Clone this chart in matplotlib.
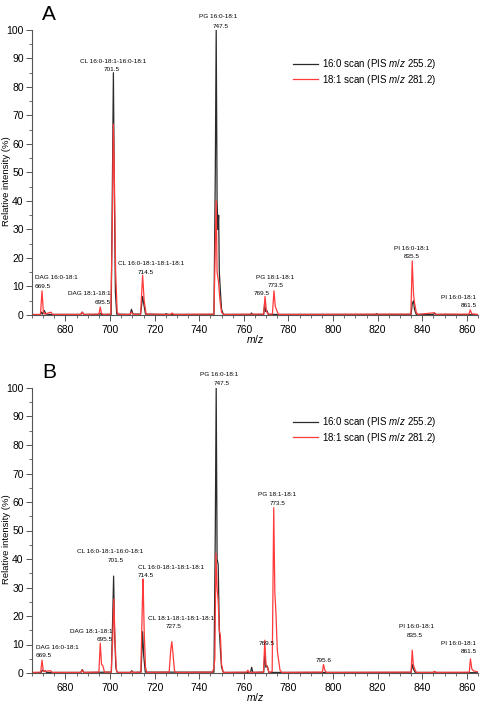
import numpy as np
import matplotlib.pyplot as plt
from matplotlib.ticker import MultipleLocator

plt.rcParams["font.family"] = ["Liberation Sans", "DejaVu Sans"]
plt.rcParams["mathtext.fontset"] = "custom"
plt.rcParams["mathtext.it"] = "Liberation Sans:italic"
plt.rcParams["mathtext.rm"] = "Liberation Sans"

# -----------------------------
# Data
# -----------------------------

# Panel A, 16:0 scan (PIS m/z 255.2)
a16_mz = [665, 668.8, 669.3, 669.8, 670.5, 671.2, 672.5, 686.8, 687.5, 688.2,
          695.0, 695.5, 696.0, 700.5, 701.1, 701.5, 701.9, 702.4, 703.0, 709.0,
          709.6, 710.3, 713.7, 714.6, 715.2, 715.9, 724.6, 725.2, 725.8, 746.6,
          747.2, 747.6, 748.0, 748.4, 748.7, 749.0, 749.5, 750.0, 750.8, 763.0,
          763.4, 763.9, 768.9, 769.3, 769.8, 770.3, 771.0, 819.1, 819.5, 819.9,
          835.0, 835.5, 836.1, 836.5, 837.3, 845.0, 845.5, 846.0, 865]
a16_int = [0.1, 0.1, 1.0, 0.3, 1.6, 0.4, 0.2, 0.2, 1.0, 0.2,
           0.2, 0.6, 0.2, 0.2, 50, 85, 45, 8, 0.3, 0.2,
           2.0, 0.3, 0.3, 6.5, 3.5, 0.3, 0.2, 0.5, 0.2, 0.2,
           50, 100, 40, 30, 35, 15, 8, 2, 0.2, 0.2,
           0.7, 0.2, 0.2, 4, 1.2, 1.6, 0.2, 0.2, 0.5, 0.2,
           0.2, 4, 5, 2, 0.2, 0.2, 0.6, 0.2, 0.1]

# Panel A, 18:1 scan (PIS m/z 281.2)
a18_mz = [665, 668.8, 669.5, 670.1, 670.7, 673.5, 674.2, 686.9, 687.5, 688.3,
          695.0, 695.6, 696.2, 697.0, 700.3, 700.9, 701.5, 702.0, 702.5, 703.2,
          703.8, 709.0, 709.5, 710.5, 713.7, 714.6, 715.3, 716.2, 727.2, 727.8,
          728.6, 746.6, 747.2, 747.6, 748.0, 748.6, 749.3, 750.0, 750.8, 768.9,
          769.5, 770.1, 770.8, 772.8, 773.5, 774.1, 774.8, 775.5, 834.9, 835.5,
          836.1, 836.6, 837.3, 838.0, 845.5, 846.2, 850.0, 861.0, 861.5, 862.2,
          865]
a18_int = [0.2, 0.2, 8.5, 1.0, 0.3, 1.0, 0.2, 0.2, 1.0, 0.2,
           0.3, 2.8, 0.5, 0.2, 0.3, 25, 67, 45, 15, 1.0,
           0.2, 0.2, 1.0, 0.2, 0.3, 14, 5, 0.3, 0.2, 0.7,
           0.2, 0.3, 25, 40, 15, 12, 5, 1.0, 0.2, 0.3,
           6.5, 1.5, 0.3, 0.3, 8.5, 3, 1.5, 0.2, 0.3, 19,
           7, 4, 1.0, 0.2, 0.8, 0.2, 0.3, 0.3, 1.8, 0.4,
           0.2]

# Panel B, 16:0 scan
b16_mz = [665, 669.0, 669.6, 670.3, 671.0, 671.5, 686.9, 687.5, 688.3, 700.6,
          701.2, 701.6, 702.0, 702.6, 703.2, 709.2, 709.7, 710.5, 713.9, 714.6,
          715.1, 715.8, 746.6, 747.2, 747.6, 748.0, 748.5, 749.0, 749.5, 750.0,
          750.8, 763.0, 763.5, 764.0, 768.9, 769.4, 769.9, 770.5, 771.2, 835.0,
          835.5, 836.0, 836.8, 845.0, 845.5, 846.0, 865]
b16_int = [0.1, 0.1, 1.0, 0.5, 0.8, 0.2, 0.2, 1.2, 0.2, 0.3,
           20, 34, 15, 2, 0.2, 0.2, 0.8, 0.2, 0.3, 14.5,
           6, 0.3, 0.3, 50, 100, 40, 38, 15, 8, 2,
           0.2, 0.2, 2.0, 0.2, 0.3, 7, 2, 2.5, 0.2, 0.2,
           3, 1.5, 0.2, 0.2, 0.5, 0.2, 0.1]

# Panel B, 18:1 scan
b18_mz = [665, 668.9, 669.5, 670.1, 673.4, 674.0, 686.9, 687.5, 688.2, 695.0,
          695.6, 696.2, 696.8, 697.5, 700.5, 701.2, 701.7, 702.2, 702.8, 703.4,
          709.2, 709.7, 710.3, 713.8, 714.5, 714.8, 715.3, 715.9, 716.5, 726.5,
          727.2, 727.7, 728.2, 728.9, 729.5, 745.8, 746.5, 747.0, 747.5, 748.0,
          748.5, 749.0, 749.5, 750.0, 750.8, 761.3, 761.8, 762.3, 768.8, 769.4,
          769.9, 770.6, 771.3, 772.7, 773.4, 773.9, 774.4, 775.0, 775.5, 776.2,
          777.0, 795.2, 795.7, 796.3, 797.0, 835.0, 835.5, 836.0, 836.6, 837.3,
          845.0, 845.5, 846.2, 861.1, 861.6, 862.2, 863.0, 865]
b18_int = [0.2, 0.3, 4.5, 0.5, 0.8, 0.2, 0.2, 1.0, 0.2, 0.3,
           10.5, 3, 2.5, 0.3, 0.3, 12, 26, 12, 1.0, 0.2,
           0.2, 0.5, 0.2, 0.3, 25, 33, 15, 2, 0.2, 0.3,
           8, 11, 7, 0.8, 0.2, 0.3, 1.5, 5, 42, 30,
           25, 15, 13, 3, 0.2, 0.3, 1.0, 0.2, 0.3, 11.5,
           3, 2, 0.2, 0.5, 58, 28, 21, 8, 5, 1.0,
           0.2, 0.3, 3, 1.0, 0.2, 0.3, 8, 3, 1.5, 0.2,
           0.2, 0.6, 0.2, 0.3, 5, 1.5, 0.7, 0.4]

# peak labels: (text, x, y, ha)
a_labels = [
    ("PG 16:0-18:1", 748.4, 104.6, "center"), ("747.5", 749.5, 101.4, "center"),
    ("CL 16:0-18:1-16:0-18:1", 701.5, 89.1, "center"), ("701.5", 700.9, 86.1, "center"),
    ("CL 16:0-18:1-18:1-18:1", 718.6, 17.9, "center"), ("714.5", 716.1, 15.0, "center"),
    ("DAG 16:0-18:1", 666.3, 13.0, "left"), ("669.5", 666.3, 9.9, "left"),
    ("DAG 18:1-18:1", 700.4, 7.4, "right"), ("695.5", 700.4, 4.5, "right"),
    ("PG 18:1-18:1", 774.0, 13.3, "center"), ("773.5", 774.3, 10.2, "center"),
    ("769.5", 768.1, 7.6, "center"),
    ("PI 16:0-18:1", 835.4, 23.5, "center"), ("835.5", 835.4, 20.4, "center"),
    ("PI 16:0-18:1", 864.3, 6.3, "right"), ("861.5", 864.3, 3.4, "right"),
]

b_labels = [
    ("PG 16:0-18:1", 749.0, 104.6, "center"), ("747.5", 750.2, 101.6, "center"),
    ("CL 16:0-18:1-16:0-18:1", 700.0, 42.5, "center"), ("701.5", 702.7, 39.4, "center"),
    ("CL 16:0-18:1-18:1-18:1", 712.5, 37.1, "left"), ("714.5", 712.5, 34.1, "left"),
    ("CL 18:1-18:1-18:1-18:1", 732.0, 19.2, "center"), ("727.5", 728.5, 16.3, "center"),
    ("DAG 18:1-18:1", 701.2, 14.7, "right"), ("695.5", 701.2, 11.8, "right"),
    ("DAG 16:0-18:1", 666.8, 9.0, "left"), ("669.5", 666.8, 6.3, "left"),
    ("PG 18:1-18:1", 775.1, 62.5, "center"), ("773.5", 775.1, 59.5, "center"),
    ("769.5", 770.2, 10.2, "center"),
    ("795.6", 796.0, 4.3, "center"),
    ("PI 16:0-18:1", 837.2, 16.3, "center"), ("835.5", 836.7, 13.1, "center"),
    ("PI 16:0-18:1", 864.3, 10.4, "right"), ("861.5", 864.3, 7.5, "right"),
]

series_names = ["16:0 scan (PIS $\\it{m/z}$ 255.2)", "18:1 scan (PIS $\\it{m/z}$ 281.2)"]
black = "#2b2b2b"
red = "#ff3a3a"

# -----------------------------
# Plot
# -----------------------------

fig = plt.figure(figsize=(4.8, 7.03), dpi=100)

ax_a = fig.add_axes([32 / 480, 1 - 315 / 703, 446 / 480, 285 / 703])
ax_b = fig.add_axes([32 / 480, 1 - 673 / 703, 446 / 480, 285 / 703])

panels = [
    (ax_a, a16_mz, a16_int, a18_mz, a18_int, a_labels, "A"),
    (ax_b, b16_mz, b16_int, b18_mz, b18_int, b_labels, "B"),
]

for ax, m16, i16, m18, i18, labels, tag in panels:
    ax.plot(m16, i16, color=black, lw=0.9, label=series_names[0])
    ax.plot(m18, i18, color=red, lw=0.9, label=series_names[1])

    ax.set_xlim(665, 865)
    ax.set_ylim(0, 100)

    ax.spines["top"].set_visible(False)
    ax.spines["right"].set_visible(False)
    ax.spines["left"].set_color("#555555")
    ax.spines["bottom"].set_color("#555555")

    ax.xaxis.set_major_locator(MultipleLocator(20))
    ax.xaxis.set_minor_locator(MultipleLocator(5))
    ax.yaxis.set_major_locator(MultipleLocator(10))
    ax.yaxis.set_minor_locator(MultipleLocator(5))
    ax.tick_params(which="major", length=4, width=0.7, color="#555555", labelsize=7.5)
    ax.tick_params(which="minor", length=2, width=0.6, color="#555555")
    ax.tick_params(axis="x", pad=3)
    ax.tick_params(axis="y", pad=2)

    ax.set_ylabel("Relative intensity (%)", fontsize=6.8)
    ax.yaxis.set_label_coords(-0.046, 0.47)
    ax.set_xlabel("$\\it{m/z}$", fontsize=7.5)
    ax.xaxis.set_label_coords(0.5, -0.062)

    for text, x, y, ha in labels:
        ax.text(x, y, text, ha=ha, va="center", fontsize=4.6, clip_on=False)

    ax.text(0.022, 1.035, tag, transform=ax.transAxes, fontsize=15,
            ha="left", va="baseline")

    ax.legend(loc="upper left", bbox_to_anchor=(0.585, 0.905),
              frameon=False, fontsize=7, handlelength=2.6,
              handletextpad=0.35, labelspacing=0.15, borderaxespad=0,
              borderpad=0)

plt.savefig("out.png", dpi=100)
